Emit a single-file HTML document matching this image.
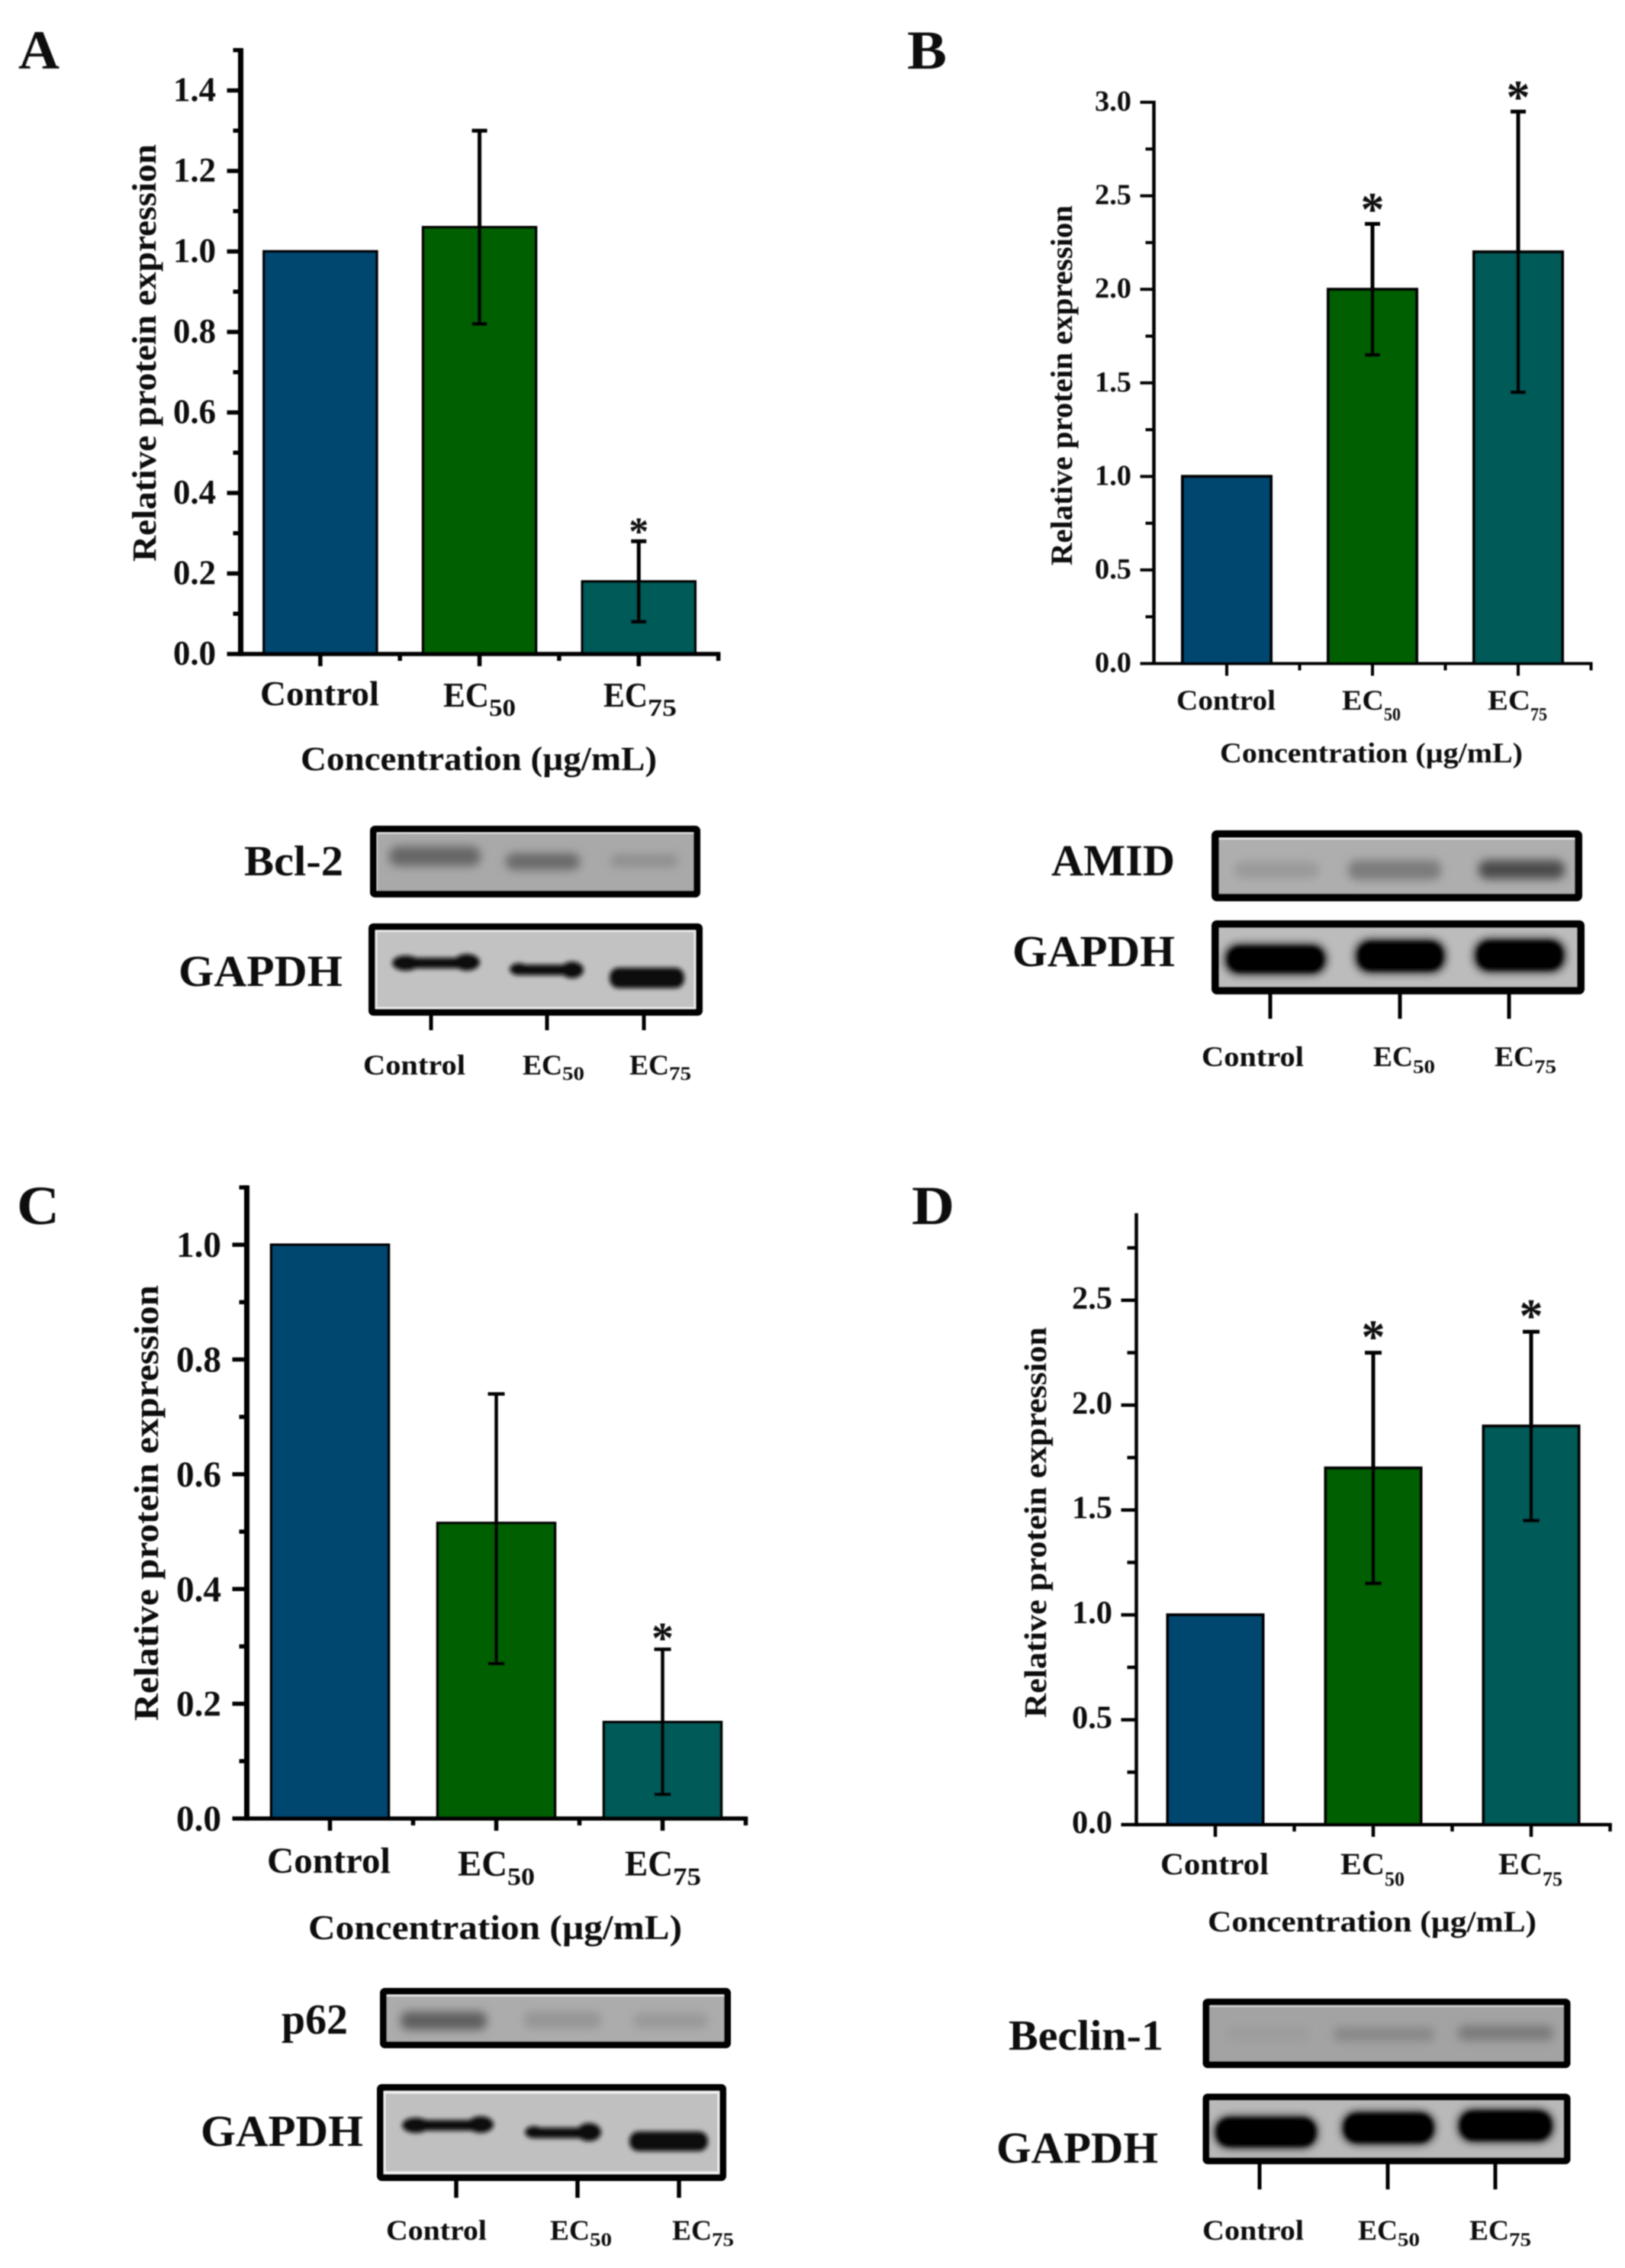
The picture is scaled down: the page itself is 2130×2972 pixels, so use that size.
<!DOCTYPE html>
<html lang="en">
<head>
<meta charset="utf-8">
<title>Relative protein expression panels A–D</title>
<style>
  html, body { margin: 0; padding: 0; background: #fff; }
  svg { display: block; }
  text { font-family: "Liberation Serif", serif; font-weight: bold; fill: #0a0a0a; }
</style>
</head>
<body>
<svg id="figure" xmlns="http://www.w3.org/2000/svg" width="2130" height="2972" viewBox="0 0 2130 2972">
  <defs>
    <filter id="soft" x="-5%" y="-5%" width="110%" height="110%"><feGaussianBlur stdDeviation="0.8"/></filter>
    <filter id="b6" x="-30%" y="-150%" width="160%" height="400%"><feGaussianBlur stdDeviation="6"/></filter>
    <filter id="b3" x="-30%" y="-150%" width="160%" height="400%"><feGaussianBlur stdDeviation="3"/></filter>
  </defs>
  <rect width="2130" height="2972" fill="#fff"/>
  <g id="root" filter="url(#soft)">
    <!-- Panel letters -->
    <text x="24" y="90" font-size="72" textLength="54" lengthAdjust="spacingAndGlyphs">A</text>
    <text x="1189" y="90" font-size="72" textLength="52" lengthAdjust="spacingAndGlyphs">B</text>
    <text x="22" y="1604" font-size="72" textLength="56" lengthAdjust="spacingAndGlyphs">C</text>
    <text x="1195" y="1604" font-size="72" textLength="56" lengthAdjust="spacingAndGlyphs">D</text>

    <!-- Panel A text -->
    <text transform="translate(204,736) rotate(-90)" font-size="44" textLength="547" lengthAdjust="spacingAndGlyphs">Relative protein expression</text>
    <text x="394" y="1009" font-size="44" textLength="467" lengthAdjust="spacingAndGlyphs">Concentration (µg/mL)</text>
    <text x="341" y="924" font-size="46" textLength="156" lengthAdjust="spacingAndGlyphs">Control</text>
    <text x="581" y="926" font-size="46" textLength="60" lengthAdjust="spacingAndGlyphs">EC</text>
    <text x="641" y="938" font-size="32" textLength="35" lengthAdjust="spacingAndGlyphs">50</text>
    <text x="791" y="926" font-size="46" textLength="58" lengthAdjust="spacingAndGlyphs">EC</text>
    <text x="849" y="938" font-size="32" textLength="38" lengthAdjust="spacingAndGlyphs">75</text>

    <!-- Panel A blots -->
    <text x="320" y="1147" font-size="56" textLength="130" lengthAdjust="spacingAndGlyphs">Bcl-2</text>
    <text x="234" y="1292" font-size="58" textLength="215" lengthAdjust="spacingAndGlyphs">GAPDH</text>
    <g>
      <rect x="489.5" y="1086.5" width="424" height="85" fill="#a9a9a9"/>
      <rect x="510" y="1109" width="120" height="26" rx="12" fill="#666" filter="url(#b6)"/>
      <rect x="663" y="1118" width="97" height="22" rx="10" fill="#696969" filter="url(#b6)"/>
      <rect x="800" y="1120" width="89" height="16" rx="8" fill="#8e8e8e" filter="url(#b6)"/>
      <line x1="494" y1="1091.5" x2="909" y2="1091.5" stroke="#f2f2f2" stroke-width="2"/>
      <line x1="494" y1="1091" x2="494" y2="1167" stroke="#e6e6e6" stroke-width="2"/>
      <rect x="489.5" y="1086.5" width="424" height="85" rx="2" fill="none" stroke="#000" stroke-width="9"/>
    </g>
    <g>
      <rect x="487.5" y="1214.5" width="429" height="112" fill="#c2c2c2"/>
      <g fill="#0a0a0a" filter="url(#b3)">
        <ellipse cx="532" cy="1262" rx="18" ry="10"/><rect x="520" y="1255" width="100" height="14"/><ellipse cx="612" cy="1261" rx="17" ry="11"/>
      </g>
      <g fill="#0a0a0a" filter="url(#b3)">
        <ellipse cx="680" cy="1270" rx="12" ry="8"/><rect x="678" y="1264" width="72" height="14"/><ellipse cx="750" cy="1271" rx="15" ry="11"/>
      </g>
      <rect x="799" y="1268" width="98" height="27" rx="12" fill="#0a0a0a" filter="url(#b3)"/>
      <rect x="493" y="1220" width="418" height="101" fill="none" stroke="#f2f2f2" stroke-width="2.5"/>
      <rect x="487.5" y="1214.5" width="429" height="112" rx="2" fill="none" stroke="#000" stroke-width="9"/>
    </g>
    <g stroke="#000" stroke-width="5">
      <line x1="565" y1="1331" x2="565" y2="1350"/><line x1="717" y1="1331" x2="717" y2="1350"/><line x1="844" y1="1331" x2="844" y2="1350"/>
    </g>
    <text x="476" y="1408" font-size="37" textLength="134" lengthAdjust="spacingAndGlyphs">Control</text>
    <text x="685" y="1408" font-size="37" textLength="52" lengthAdjust="spacingAndGlyphs">EC</text>
    <text x="737" y="1415" font-size="25" textLength="29" lengthAdjust="spacingAndGlyphs">50</text>
    <text x="825" y="1408" font-size="37" textLength="52" lengthAdjust="spacingAndGlyphs">EC</text>
    <text x="877" y="1415" font-size="25" textLength="29" lengthAdjust="spacingAndGlyphs">75</text>

    <!-- Panel B text -->
    <text transform="translate(1405,741) rotate(-90)" font-size="40" textLength="472" lengthAdjust="spacingAndGlyphs">Relative protein expression</text>
    <text x="1599" y="999" font-size="37" textLength="397" lengthAdjust="spacingAndGlyphs">Concentration (µg/mL)</text>
    <text x="1542" y="930" font-size="37" textLength="130" lengthAdjust="spacingAndGlyphs">Control</text>
    <text x="1759" y="930" font-size="37" textLength="55" lengthAdjust="spacingAndGlyphs">EC</text>
    <text x="1814" y="944" font-size="24" textLength="22" lengthAdjust="spacingAndGlyphs">50</text>
    <text x="1950" y="930" font-size="37" textLength="56" lengthAdjust="spacingAndGlyphs">EC</text>
    <text x="2006" y="944" font-size="24" textLength="22" lengthAdjust="spacingAndGlyphs">75</text>

    <!-- Panel B blots -->
    <text x="1378" y="1147" font-size="58" textLength="162" lengthAdjust="spacingAndGlyphs">AMID</text>
    <text x="1327" y="1266" font-size="58" textLength="213" lengthAdjust="spacingAndGlyphs">GAPDH</text>
    <g>
      <rect x="1593" y="1093" width="476" height="83" fill="#aeaeae"/>
      <rect x="1618" y="1129" width="111" height="22" rx="10" fill="#9a9a9a" filter="url(#b6)"/>
      <rect x="1767" y="1127" width="122" height="26" rx="11" fill="#7c7c7c" filter="url(#b6)"/>
      <rect x="1938" y="1127" width="113" height="25" rx="11" fill="#4c4c4c" filter="url(#b6)"/>
      <line x1="1597" y1="1099" x2="2065" y2="1099" stroke="#f2f2f2" stroke-width="2"/>
      <rect x="1593" y="1093" width="476" height="83" rx="2" fill="none" stroke="#000" stroke-width="10"/>
    </g>
    <g>
      <rect x="1593" y="1211" width="479" height="87" fill="#bcbcbc"/>
      <rect x="1606" y="1238" width="132" height="38" rx="17" fill="#000" filter="url(#b6)"/>
      <rect x="1777" y="1232" width="117" height="42" rx="18" fill="#000" filter="url(#b6)"/>
      <rect x="1933" y="1231" width="118" height="42" rx="18" fill="#000" filter="url(#b6)"/>
      <rect x="1610" y="1241" width="124" height="32" rx="15" fill="#000" filter="url(#b3)"/>
      <rect x="1781" y="1235" width="109" height="36" rx="16" fill="#000" filter="url(#b3)"/>
      <rect x="1937" y="1234" width="110" height="36" rx="16" fill="#000" filter="url(#b3)"/>
      <rect x="1593" y="1211" width="479" height="87" rx="2" fill="none" stroke="#000" stroke-width="10"/>
    </g>
    <g stroke="#000" stroke-width="5">
      <line x1="1665" y1="1302" x2="1665" y2="1335"/><line x1="1835" y1="1302" x2="1835" y2="1335"/><line x1="1978" y1="1302" x2="1978" y2="1335"/>
    </g>
    <text x="1575" y="1397" font-size="37" textLength="134" lengthAdjust="spacingAndGlyphs">Control</text>
    <text x="1800" y="1397" font-size="37" textLength="52" lengthAdjust="spacingAndGlyphs">EC</text>
    <text x="1852" y="1406" font-size="25" textLength="29" lengthAdjust="spacingAndGlyphs">50</text>
    <text x="1959" y="1397" font-size="37" textLength="52" lengthAdjust="spacingAndGlyphs">EC</text>
    <text x="2011" y="1406" font-size="25" textLength="29" lengthAdjust="spacingAndGlyphs">75</text>

    <!-- Panel C text -->
    <text transform="translate(207,2255) rotate(-90)" font-size="46" textLength="571" lengthAdjust="spacingAndGlyphs">Relative protein expression</text>
    <text x="404" y="2541" font-size="45" textLength="490" lengthAdjust="spacingAndGlyphs">Concentration (µg/mL)</text>
    <text x="350" y="2454" font-size="48" textLength="162" lengthAdjust="spacingAndGlyphs">Control</text>
    <text x="600" y="2458" font-size="48" textLength="65" lengthAdjust="spacingAndGlyphs">EC</text>
    <text x="665" y="2470" font-size="33" textLength="36" lengthAdjust="spacingAndGlyphs">50</text>
    <text x="819" y="2458" font-size="48" textLength="63" lengthAdjust="spacingAndGlyphs">EC</text>
    <text x="882" y="2470" font-size="33" textLength="37" lengthAdjust="spacingAndGlyphs">75</text>

    <!-- Panel C blots -->
    <text x="369" y="2665" font-size="56" textLength="87" lengthAdjust="spacingAndGlyphs">p62</text>
    <text x="263" y="2812" font-size="58" textLength="213" lengthAdjust="spacingAndGlyphs">GAPDH</text>
    <g>
      <rect x="502.5" y="2609.5" width="451" height="70" fill="#acacac"/>
      <rect x="525" y="2636" width="113" height="24" rx="10" fill="#5f5f5f" filter="url(#b6)"/>
      <rect x="687" y="2636" width="101" height="22" rx="9" fill="#959595" filter="url(#b6)"/>
      <rect x="830" y="2638" width="98" height="20" rx="9" fill="#999" filter="url(#b6)"/>
      <line x1="507" y1="2615" x2="949" y2="2615" stroke="#f0f0f0" stroke-width="2"/>
      <rect x="502.5" y="2609.5" width="451" height="70" rx="2" fill="none" stroke="#000" stroke-width="9"/>
    </g>
    <g>
      <rect x="498.5" y="2735.5" width="449" height="118" fill="#c0c0c0"/>
      <g fill="#0a0a0a" filter="url(#b3)">
        <ellipse cx="545" cy="2785" rx="18" ry="10"/><rect x="535" y="2778" width="95" height="14"/><ellipse cx="630" cy="2784" rx="17" ry="11"/>
      </g>
      <g fill="#0a0a0a" filter="url(#b3)">
        <ellipse cx="700" cy="2794" rx="12" ry="8"/><rect x="700" y="2788" width="72" height="14"/><ellipse cx="772" cy="2794" rx="16" ry="12"/>
      </g>
      <rect x="825" y="2793" width="103" height="26" rx="12" fill="#0a0a0a" filter="url(#b3)"/>
      <rect x="504" y="2742" width="438" height="105" fill="none" stroke="#f2f2f2" stroke-width="3"/>
      <rect x="498.5" y="2735.5" width="449" height="118" rx="2" fill="none" stroke="#000" stroke-width="9"/>
    </g>
    <g stroke="#000" stroke-width="5.5">
      <line x1="598" y1="2858" x2="598" y2="2880"/><line x1="757" y1="2858" x2="757" y2="2880"/><line x1="890" y1="2858" x2="890" y2="2880"/>
    </g>
    <text x="506" y="2935" font-size="37" textLength="132" lengthAdjust="spacingAndGlyphs">Control</text>
    <text x="721" y="2935" font-size="37" textLength="52" lengthAdjust="spacingAndGlyphs">EC</text>
    <text x="773" y="2943" font-size="25" textLength="29" lengthAdjust="spacingAndGlyphs">50</text>
    <text x="881" y="2935" font-size="37" textLength="52" lengthAdjust="spacingAndGlyphs">EC</text>
    <text x="933" y="2943" font-size="25" textLength="29" lengthAdjust="spacingAndGlyphs">75</text>

    <!-- Panel D text -->
    <text transform="translate(1371,2251) rotate(-90)" font-size="41" textLength="512" lengthAdjust="spacingAndGlyphs">Relative protein expression</text>
    <text x="1583" y="2531" font-size="39" textLength="431" lengthAdjust="spacingAndGlyphs">Concentration (µg/mL)</text>
    <text x="1521" y="2456" font-size="40" textLength="142" lengthAdjust="spacingAndGlyphs">Control</text>
    <text x="1757" y="2456" font-size="40" textLength="58" lengthAdjust="spacingAndGlyphs">EC</text>
    <text x="1815" y="2471" font-size="26" textLength="26" lengthAdjust="spacingAndGlyphs">50</text>
    <text x="1964" y="2456" font-size="40" textLength="58" lengthAdjust="spacingAndGlyphs">EC</text>
    <text x="2022" y="2471" font-size="26" textLength="26" lengthAdjust="spacingAndGlyphs">75</text>

    <!-- Panel D blots -->
    <text x="1322" y="2686" font-size="56" textLength="203" lengthAdjust="spacingAndGlyphs">Beclin-1</text>
    <text x="1306" y="2834" font-size="58" textLength="212" lengthAdjust="spacingAndGlyphs">GAPDH</text>
    <g>
      <rect x="1581" y="2623.5" width="473" height="82" fill="#a3a3a3"/>
      <rect x="1608" y="2656" width="109" height="18" rx="8" fill="#9c9c9c" filter="url(#b6)"/>
      <rect x="1748" y="2656" width="132" height="19" rx="8" fill="#888" filter="url(#b6)"/>
      <rect x="1911" y="2654" width="125" height="20" rx="8" fill="#7a7a7a" filter="url(#b6)"/>
      <line x1="1586" y1="2629" x2="2050" y2="2629" stroke="#d8d8d8" stroke-width="2"/>
      <rect x="1581" y="2623.5" width="473" height="82" rx="2" fill="none" stroke="#000" stroke-width="9"/>
    </g>
    <g>
      <rect x="1581" y="2748" width="473" height="83.5" fill="#b9b9b9"/>
      <rect x="1593" y="2774" width="133" height="40" rx="18" fill="#000" filter="url(#b6)"/>
      <rect x="1760" y="2768" width="120" height="41" rx="18" fill="#000" filter="url(#b6)"/>
      <rect x="1912" y="2765" width="123" height="41" rx="18" fill="#000" filter="url(#b6)"/>
      <rect x="1595" y="2776" width="129" height="36" rx="16" fill="#000" filter="url(#b3)"/>
      <rect x="1762" y="2770" width="116" height="37" rx="17" fill="#000" filter="url(#b3)"/>
      <rect x="1914" y="2767" width="119" height="37" rx="17" fill="#000" filter="url(#b3)"/>
      <rect x="1581" y="2748" width="473" height="83.5" rx="2" fill="none" stroke="#000" stroke-width="9"/>
    </g>
    <g stroke="#000" stroke-width="5">
      <line x1="1651" y1="2836" x2="1651" y2="2869"/><line x1="1819" y1="2836" x2="1819" y2="2869"/><line x1="1960" y1="2836" x2="1960" y2="2869"/>
    </g>
    <text x="1576" y="2935" font-size="37" textLength="133" lengthAdjust="spacingAndGlyphs">Control</text>
    <text x="1780" y="2935" font-size="37" textLength="52" lengthAdjust="spacingAndGlyphs">EC</text>
    <text x="1832" y="2943" font-size="25" textLength="29" lengthAdjust="spacingAndGlyphs">50</text>
    <text x="1926" y="2935" font-size="37" textLength="52" lengthAdjust="spacingAndGlyphs">EC</text>
    <text x="1978" y="2943" font-size="25" textLength="29" lengthAdjust="spacingAndGlyphs">75</text>

    <g id="charts"></g>
  </g>
</svg>
<script>
// Chart data
const categories = ['control', 'ec50', 'ec75'];
const barColors = ['#01476f', '#065f05', '#015a58'];

const valuesA = [1.0, 1.06, 0.18];
const errorsUpA = [0, 0.24, 0.10];
const errorsDownA = [0, 0.24, 0.10];
const starsA = [false, false, true];
const yTickLabelsA = ['0.0', '0.2', '0.4', '0.6', '0.8', '1.0', '1.2', '1.4'];

const valuesB = [1.0, 2.0, 2.2];
const errorsUpB = [0, 0.35, 0.75];
const errorsDownB = [0, 0.35, 0.75];
const starsB = [false, true, true];
const yTickLabelsB = ['0.0', '0.5', '1.0', '1.5', '2.0', '2.5', '3.0'];

const valuesC = [1.0, 0.515, 0.168];
const errorsUpC = [0, 0.225, 0.127];
const errorsDownC = [0, 0.245, 0.126];
const starsC = [false, false, true];
const yTickLabelsC = ['0.0', '0.2', '0.4', '0.6', '0.8', '1.0'];

const valuesD = [1.0, 1.7, 1.9];
const errorsUpD = [0, 0.55, 0.45];
const errorsDownD = [0, 0.55, 0.45];
const starsD = [false, true, true];
const yTickLabelsD = ['0.0', '0.5', '1.0', '1.5', '2.0', '2.5'];

const SVG_NS = 'http://www.w3.org/2000/svg';
const chartsLayer = document.getElementById('charts');

function make(tag, attrs, parent) {
  const node = document.createElementNS(SVG_NS, tag);
  for (const key in attrs) node.setAttribute(key, attrs[key]);
  parent.appendChild(node);
  return node;
}

function drawChart(id, values, errorsUp, errorsDown, stars, tickLabels, layout) {
  const group = make('g', {}, chartsLayer);
  
  

  const yScale = v => layout.y0 - (v / layout.yMax) * (layout.y0 - layout.yTop);
  const xScale = i => layout.x0 + layout.step * (i + 0.5);

  // bars
  values.forEach((value, i) => {
    const bar = make('rect', {
      x: xScale(i) - layout.barW / 2, y: yScale(value),
      width: layout.barW, height: layout.y0 - yScale(value),
      fill: barColors[i], stroke: '#000', 'stroke-width': layout.barStroke
    }, group);
    
    
  });

  // error bars and significance stars
  values.forEach((value, i) => {
    if (errorsUp[i] > 0) {
      const top = yScale(value + errorsUp[i]);
      const bottom = yScale(value - errorsDown[i]);
      const path = 'M' + (xScale(i) - layout.cap / 2) + ' ' + top + 'H' + (xScale(i) + layout.cap / 2) +
        'M' + xScale(i) + ' ' + top + 'V' + bottom +
        'M' + (xScale(i) - layout.cap / 2) + ' ' + bottom + 'H' + (xScale(i) + layout.cap / 2);
      const err = make('path', { d: path, fill: 'none', stroke: '#050505', 'stroke-width': layout.errStroke }, group);
      
      
    }
    if (stars[i]) {
      const star = make('text', {
        x: xScale(i), y: yScale(value + errorsUp[i]) - layout.starGap + layout.starSize * 0.48,
        'text-anchor': 'middle', 'font-size': layout.starSize
      }, group);
      star.textContent = '*';
      
      
    }
  });

  // axes
  const yAxis = make('line', { x1: layout.x0, y1: layout.yTop - layout.tickW / 2, x2: layout.x0, y2: layout.y0 + layout.tickW / 2, stroke: '#000', 'stroke-width': layout.axisW }, group);
  
  
  const xAxis = make('line', { x1: layout.x0, y1: layout.y0, x2: layout.x0 + layout.step * values.length + layout.tickW / 2, y2: layout.y0, stroke: '#000', 'stroke-width': layout.tickW }, group);
  
  

  // y ticks
  const minorCount = Math.floor(layout.yMax / layout.minorStep + 1e-6);
  for (let k = 0; k <= minorCount; k++) {
    const y = yScale(k * layout.minorStep);
    const isMajor = k % 2 === 0 && k / 2 < tickLabels.length;
    const tick = make('line', { x1: layout.x0 - (isMajor ? layout.majorLen : layout.minorLen), y1: y, x2: layout.x0, y2: y, stroke: '#000', 'stroke-width': layout.tickW }, group);
    
    
  }
  tickLabels.forEach(label => {
    const y = yScale(parseFloat(label));
    const text = make('text', {
      x: layout.labelX - layout.labelW, y: y + layout.labelDy,
      'font-size': layout.labelSize, textLength: layout.labelW, lengthAdjust: 'spacingAndGlyphs'
    }, group);
    text.textContent = label;
    
    
  });

  // x ticks
  values.forEach((value, i) => {
    const major = make('line', { x1: xScale(i), y1: layout.y0, x2: xScale(i), y2: layout.y0 + 16, stroke: '#000', 'stroke-width': layout.tickW }, group);
    
    
    const edge = layout.x0 + layout.step * (i + 1);
    const minor = make('line', { x1: edge, y1: layout.y0, x2: edge, y2: layout.y0 + 9, stroke: '#000', 'stroke-width': layout.tickW }, group);
    
    
  });
}

drawChart('a', valuesA, errorsUpA, errorsDownA, starsA, yTickLabelsA, {
  x0: 315.5, step: 208.7, barW: 148, y0: 857, yTop: 65.7, yMax: 1.5, minorStep: 0.1,
  axisW: 7, tickW: 5.5, majorLen: 18, minorLen: 10, barStroke: 3.5, errStroke: 5, cap: 20, starGap: 21, starSize: 52,
  labelX: 283, labelW: 56, labelSize: 45, labelDy: 14
});
drawChart('b', valuesB, errorsUpB, errorsDownB, starsB, yTickLabelsB, {
  x0: 1512.5, step: 191, barW: 116, y0: 869.5, yTop: 134, yMax: 3.0, minorStep: 0.25,
  axisW: 4.5, tickW: 4, majorLen: 18, minorLen: 11, barStroke: 4, errStroke: 5, cap: 20, starGap: 28, starSize: 62,
  labelX: 1483, labelW: 48, labelSize: 38, labelDy: 11
});
drawChart('c', valuesC, errorsUpC, errorsDownC, starsC, yTickLabelsC, {
  x0: 323.5, step: 218, barW: 154, y0: 2383, yTop: 1556, yMax: 1.1, minorStep: 0.1,
  axisW: 7, tickW: 5.5, majorLen: 19, minorLen: 10, barStroke: 3.5, errStroke: 4.5, cap: 22, starGap: 23, starSize: 58,
  labelX: 290, labelW: 59, labelSize: 48, labelDy: 16
});
drawChart('d', valuesD, errorsUpD, errorsDownD, starsD, yTickLabelsD, {
  x0: 1489.5, step: 207, barW: 125, y0: 2391, yTop: 1592, yMax: 2.907, minorStep: 0.25,
  axisW: 4.5, tickW: 4.5, majorLen: 20, minorLen: 12, barStroke: 4, errStroke: 5, cap: 22, starGap: 30, starSize: 62,
  labelX: 1458, labelW: 53, labelSize: 42, labelDy: 11
});
</script>
</body>
</html>
